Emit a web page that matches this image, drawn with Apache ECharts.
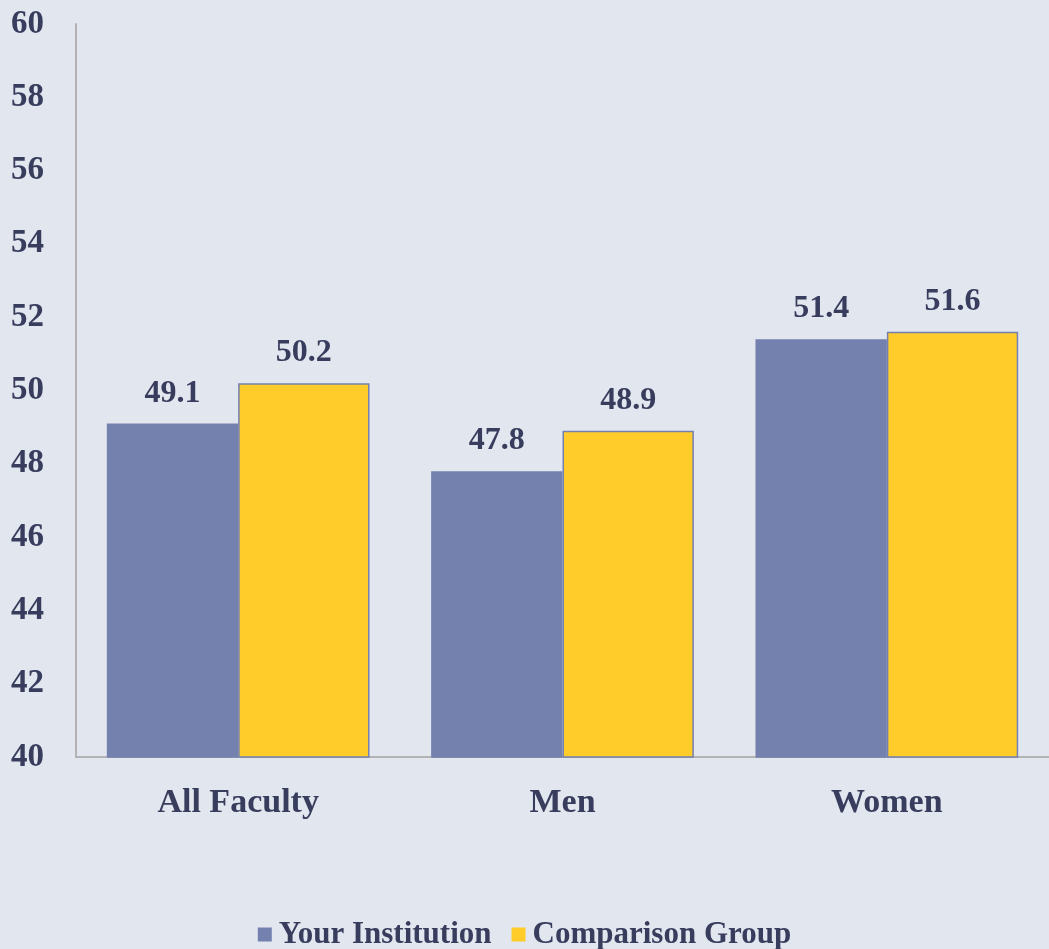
<!DOCTYPE html>
<html>
<head>
<meta charset="utf-8">
<script src="https://cdn.jsdelivr.net/npm/echarts@6/dist/echarts.min.js"></script>
<style>
  html, body { margin: 0; padding: 0; background: #E2E6EE; }
  #chart { width: 1049px; height: 949px; }
</style>
</head>
<body>
<div id="chart"></div>
<script>
var categories = ['All Faculty', 'Men', 'Women'];
var seriesNames = ['Your Institution', 'Comparison Group'];
var yourInstitution = [49.1, 47.8, 51.4];
var comparisonGroup = [50.2, 48.9, 51.6];

var textColor = '#383D5E';
var font = '"Liberation Serif", "DejaVu Serif", serif';

var myChart = echarts.init(document.getElementById('chart'));

var option = {
  backgroundColor: '#E2E6EE',
  color: ['#7480AE', '#FFCC29'],
  textStyle: { fontFamily: font },
  grid: { left: 76, right: 0, top: 24, bottom: 192 },
  legend: {
    data: seriesNames,
    top: 919,
    left: 'center',
    padding: 0,
    icon: 'rect',
    itemWidth: 14,
    itemHeight: 14,
    itemGap: 20,
    itemStyle: { borderWidth: 0 },
    textStyle: { color: textColor, fontSize: 31, fontWeight: 'bold', fontFamily: font, padding: [0, 0, 0, 2] }
  },
  xAxis: {
    type: 'category',
    data: categories,
    axisLine: { show: true, lineStyle: { color: '#B3B3B3', width: 2 } },
    axisTick: { show: false },
    axisLabel: { color: textColor, fontSize: 34, fontWeight: 'bold', fontFamily: font, margin: 29 }
  },
  yAxis: {
    type: 'value',
    min: 40,
    max: 60,
    interval: 2,
    splitLine: { show: false },
    axisLine: { show: true, lineStyle: { color: '#B3B3B3', width: 2 } },
    axisTick: { show: false },
    axisLabel: { color: textColor, fontSize: 33, fontWeight: 'bold', fontFamily: font, margin: 32 }
  },
  series: [
    {
      name: seriesNames[0],
      type: 'bar',
      data: yourInstitution,
      barGap: '0%',
      barCategoryGap: '19%',
      itemStyle: { borderColor: '#7480AE', borderWidth: 1.5 },
      label: { show: true, position: 'top', distance: 14, color: textColor, fontSize: 32, fontWeight: 'bold', fontFamily: font }
    },
    {
      name: seriesNames[1],
      type: 'bar',
      data: comparisonGroup,
      barGap: '0%',
      barCategoryGap: '19%',
      itemStyle: { borderColor: '#7480AE', borderWidth: 1.5 },
      label: { show: true, position: 'top', distance: 14, color: textColor, fontSize: 32, fontWeight: 'bold', fontFamily: font }
    }
  ]
};

myChart.setOption(option);
</script>
</body>
</html>
